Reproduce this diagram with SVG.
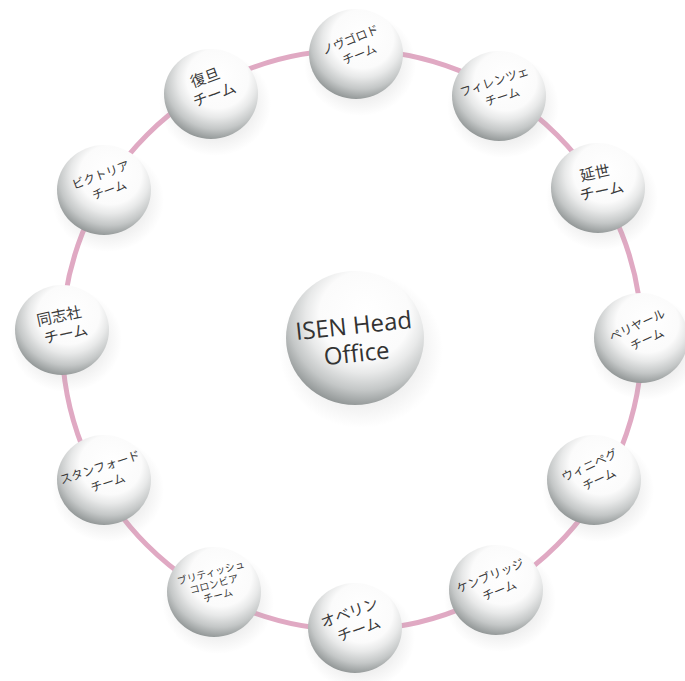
<svg xmlns="http://www.w3.org/2000/svg" width="685" height="681" viewBox="0 0 685 681">
<defs>
<radialGradient id="ball" cx="0.56" cy="0.36" r="0.66" fx="0.58" fy="0.3">
<stop offset="0" stop-color="#ffffff"/>
<stop offset="0.5" stop-color="#fbfbfb"/>
<stop offset="0.64" stop-color="#e8e9e9"/>
<stop offset="0.82" stop-color="#c4c7c7"/>
<stop offset="1" stop-color="#8e9393"/>
</radialGradient>
<radialGradient id="shadow" cx="0.5" cy="0.5" r="0.5">
<stop offset="0" stop-color="#a0a0a0" stop-opacity="0.5"/>
<stop offset="1" stop-color="#a0a0a0" stop-opacity="0"/>
</radialGradient>
<g id="b">
<ellipse cx="4" cy="10" rx="56" ry="52" fill="url(#shadow)"/>
<ellipse cx="0" cy="0" rx="47" ry="45" fill="url(#ball)"/>
</g>
<g id="bc">
<ellipse cx="6" cy="12" rx="82" ry="78" fill="url(#shadow)"/>
<ellipse cx="0" cy="0" rx="69" ry="67" fill="url(#ball)"/>
</g>
</defs>
<style>
.t{font-family:"Noto Sans CJK JP","Noto Sans",sans-serif;fill:#3a3a3a;text-anchor:middle}
.a{font-size:15px}
.s{font-size:12px}
.x{font-size:10px}
.c{font-family:"Open Sans","Noto Sans",sans-serif;font-size:24px;fill:#333;text-anchor:middle}
</style>
<rect width="685" height="681" fill="#ffffff"/>
<g id="connectors">
<circle cx="352" cy="340" r="290" fill="none" stroke="#e0a9c3" stroke-width="5"/>
</g>
<g id="center">
<use href="#bc" x="355" y="338"/>
<g transform="rotate(-6 355 338)">
<text class="c" x="355" y="334">ISEN Head</text>
<text class="c" x="355" y="362">Office</text>
</g>
</g>
<g id="fudan">
<use href="#b" x="211" y="94"/>
<g transform="rotate(-20 211 94)"><text class="t a" x="211" y="82">復旦</text><text class="t a" x="214" y="101">チーム</text></g>
</g>
<g id="novgorod">
<use href="#b" x="356" y="54"/>
<g transform="rotate(-22 356 54)"><text class="t s" x="356" y="43">ノヴゴロド</text><text class="t s" x="359" y="60">チーム</text></g>
</g>
<g id="firenze">
<use href="#b" x="499" y="96"/>
<g transform="rotate(-18 499 96)"><text class="t s" x="499" y="85">フィレンツェ</text><text class="t s" x="502" y="102">チーム</text></g>
</g>
<g id="yonsei">
<use href="#b" x="598" y="188"/>
<g transform="rotate(-12 598 188)"><text class="t a" x="598" y="178">延世</text><text class="t a" x="601" y="197">チーム</text></g>
</g>
<g id="periyar">
<use href="#b" x="641" y="338"/>
<g transform="rotate(-25 641 338)"><text class="t s" x="643" y="329">ペリヤール</text><text class="t s" x="646" y="346">チーム</text></g>
</g>
<g id="winnipeg">
<use href="#b" x="594" y="480"/>
<g transform="rotate(-25 594 480)"><text class="t s" x="596" y="469">ウィニペグ</text><text class="t s" x="599" y="486">チーム</text></g>
</g>
<g id="cambridge">
<use href="#b" x="496" y="590"/>
<g transform="rotate(-22 496 590)"><text class="t s" x="496" y="579">ケンブリッジ</text><text class="t s" x="499" y="596">チーム</text></g>
</g>
<g id="oberlin">
<use href="#b" x="355" y="628"/>
<g transform="rotate(-20 355 628)"><text class="t a" x="355" y="617">オベリン</text><text class="t a" x="358" y="636">チーム</text></g>
</g>
<g id="british-columbia">
<use href="#b" x="214" y="592"/>
<g transform="rotate(-15 214 592)"><text class="t x" x="216" y="576">ブリティッシュ</text><text class="t x" x="216" y="588">コロンビア</text><text class="t x" x="217" y="600">チーム</text></g>
</g>
<g id="stanford">
<use href="#b" x="104" y="480"/>
<g transform="rotate(-18 104 480)"><text class="t s" x="104" y="471">スタンフォード</text><text class="t s" x="107" y="488">チーム</text></g>
</g>
<g id="doshisha">
<use href="#b" x="62" y="330"/>
<g transform="rotate(-12 62 330)"><text class="t a" x="62" y="321">同志社</text><text class="t a" x="65" y="340">チーム</text></g>
</g>
<g id="victoria">
<use href="#b" x="104" y="190"/>
<g transform="rotate(-20 104 190)"><text class="t s" x="106" y="179">ビクトリア</text><text class="t s" x="109" y="196">チーム</text></g>
</g>
</svg>
